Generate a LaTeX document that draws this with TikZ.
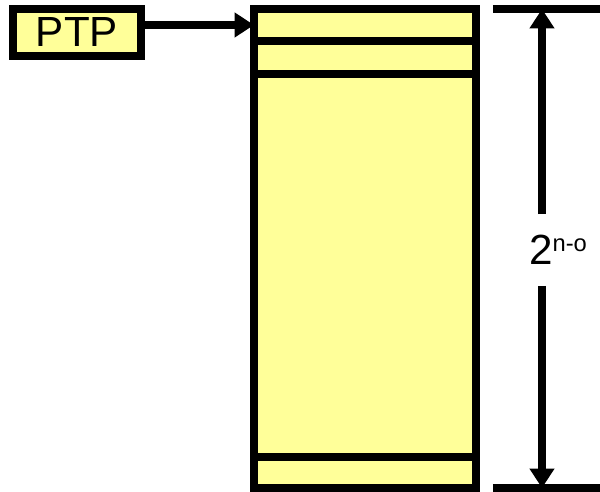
\documentclass[tikz,border=0pt]{standalone}
\usepackage{fontspec}
\setmainfont{Liberation Sans}
\usetikzlibrary{arrows.meta}
\definecolor{pageyellow}{HTML}{FFFF99}

\begin{document}
\begin{tikzpicture}[x=0.02cm,y=-0.02cm,line width=4.5pt,
    font=\fontsize{24}{28}\selectfont,
    box/.style={draw,fill=pageyellow,inner sep=0pt,outer sep=0pt},
    ptr/.style={-{Triangle[length=11pt,width=13.5pt]}}]
  \useasboundingbox (0,0) rectangle (600,492);

  % pointer register and the table it points at
  \node[box,minimum width=2.56cm,minimum height=0.94cm] (ptp) at (77,32.5) {PTP};
  \node[box,minimum width=4.44cm,minimum height=9.58cm] (table) at (365,248.5) {};
  \coordinate (entry) at (254,25);
  \draw[ptr] (ptp.east |- entry) -- (table.west |- entry);

  % entry separators
  \foreach \y in {41,74,457}
    \draw (table.west |- 0,\y) -- (table.east |- 0,\y);

  % size of the table
  \coordinate (dimtop) at (542,9);
  \coordinate (dimbot) at (542,488);
  \draw (493,9) -- (604,9);
  \draw (493,488) -- (604,488);
  \node[inner sep=0pt,minimum height=1.28cm] (size) at (558,250)
    {2\raisebox{7.3pt}{\fontsize{13.5}{15}\selectfont n-o}};
  \draw[ptr] (dimtop |- size.north) -- (dimtop);
  \draw[ptr] (dimbot |- size.south) -- (dimbot);
\end{tikzpicture}
\end{document}
